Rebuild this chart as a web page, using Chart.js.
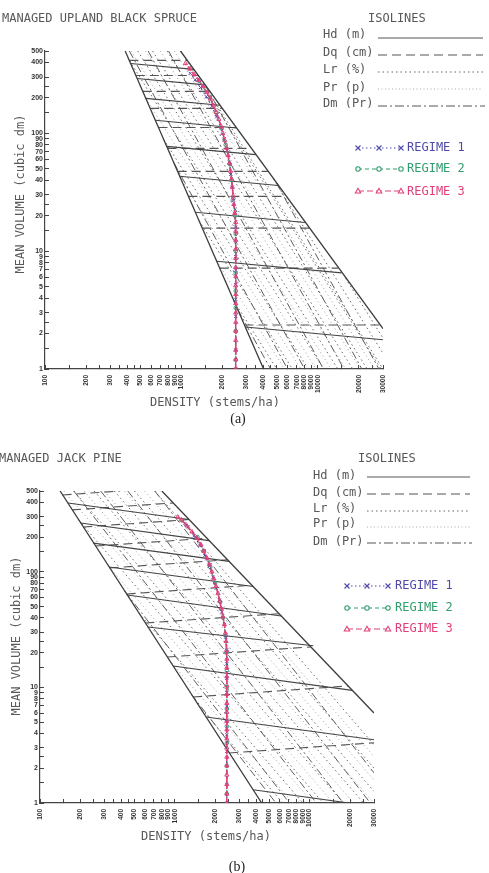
<!DOCTYPE html>
<html>
<head>
<meta charset="utf-8">
<title>Managed stand density diagrams</title>
<script src="https://cdn.jsdelivr.net/npm/chart.js@4.4.1/dist/chart.umd.min.js"></script>
<style>
  body { margin:0; background:#fff; }
  #page { position:relative; width:489px; height:873px; overflow:hidden; background:#fff; }
  canvas { position:absolute; left:0; }
  .lbl { position:absolute; white-space:nowrap; font-family:"DejaVu Sans Mono", monospace; font-size:12px; line-height:14px; color:#585858; }
  .ytitle { transform: translate(-50%,-50%) rotate(-90deg); }
  .xtitle { transform: translateX(-50%); }
  .cap { position:absolute; font-family:"Liberation Serif", serif; font-size:14px; line-height:16px; color:#222; transform:translateX(-50%); }
  .r1 { color:#4f4aa8; } .r2 { color:#2f9d6c; } .r3 { color:#e0407a; }
  svg { position:absolute; left:0; top:0; }
</style>
</head>
<body>
<div id="page">
  <canvas id="spruce" width="489" height="400" style="top:0"></canvas>
  <canvas id="pine" width="489" height="400" style="top:440px"></canvas>
  <svg id="keys" width="489" height="873"></svg>

  <div class="lbl" style="left:2px;top:11px">MANAGED UPLAND BLACK SPRUCE</div>
  <div class="lbl" style="left:368px;top:11px">ISOLINES</div>
  <div class="lbl" style="left:323px;top:27px">Hd (m)</div>
  <div class="lbl" style="left:323px;top:45px">Dq (cm)</div>
  <div class="lbl" style="left:323px;top:62px">Lr (%)</div>
  <div class="lbl" style="left:323px;top:80px">Pr (p)</div>
  <div class="lbl" style="left:323px;top:96px">Dm (Pr)</div>
  <div class="lbl r1" style="left:407px;top:140px">REGIME 1</div>
  <div class="lbl r2" style="left:407px;top:161px">REGIME 2</div>
  <div class="lbl r3" style="left:407px;top:184px">REGIME 3</div>
  <div class="lbl ytitle" style="left:20px;top:194px">MEAN VOLUME (cubic dm)</div>
  <div class="lbl xtitle" style="left:215px;top:395px">DENSITY (stems/ha)</div>
  <div class="cap" style="left:238px;top:411px">(a)</div>

  <div class="lbl" style="left:-1px;top:451px">MANAGED JACK PINE</div>
  <div class="lbl" style="left:358px;top:451px">ISOLINES</div>
  <div class="lbl" style="left:313px;top:468px">Hd (m)</div>
  <div class="lbl" style="left:313px;top:485px">Dq (cm)</div>
  <div class="lbl" style="left:313px;top:501px">Lr (%)</div>
  <div class="lbl" style="left:313px;top:516px">Pr (p)</div>
  <div class="lbl" style="left:313px;top:534px">Dm (Pr)</div>
  <div class="lbl r1" style="left:395px;top:578px">REGIME 1</div>
  <div class="lbl r2" style="left:395px;top:600px">REGIME 2</div>
  <div class="lbl r3" style="left:395px;top:621px">REGIME 3</div>
  <div class="lbl ytitle" style="left:16px;top:636px">MEAN VOLUME (cubic dm)</div>
  <div class="lbl xtitle" style="left:206px;top:829px">DENSITY (stems/ha)</div>
  <div class="cap" style="left:237px;top:859px">(b)</div>
</div>

<script>
// axis ticks (stems/ha, cubic dm)
const xTicks = [100,150,200,250,300,350,400,450,500,600,700,800,900,1000,1500,2000,2500,3000,3500,4000,4500,5000,6000,7000,8000,9000,10000,15000,20000,25000,30000];
const xLabels = [100,200,300,400,500,600,700,800,900,1000,2000,3000,4000,5000,6000,7000,8000,9000,10000,20000,30000];
const yTicks = [1,1.5,2,2.5,3,4,5,6,7,8,9,10,15,20,25,30,40,50,60,70,80,90,100,150,200,250,300,400,500];
const yLabels = [1,2,3,4,5,6,7,8,9,10,20,30,40,50,60,70,80,90,100,200,300,400,500];

// isolines: [density1, volume1, density2, volume2]
const spruceBounds = [[387,500,4000,1],[984,500,30000,2.2]];
const spruceHd = [[425,392,1233,349],[474,292,1489,258],[548,198,1914,173],[644,129,2529,111],[780,77.6,3499,66],[971,43.3,5105,36.1],[1265,21.4,8035,17.5],[1811,8.22,14890,6.55],[2938,2.27,30000,1.77]];
const spruceDq = [[415,416,1104,416],[463,310,1327,310],[521,227,1614,227],[590,163,1986,163],[679,112,2506,112],[791,74.6,3243,74.6],[938,47.6,4295,47.6],[1125,29.2,5834,29.2],[1422,15.7,8630,15.7],[1905,7.18,14060,7.18],[2897,2.36,28250,2.36]];
const spruceLr = [[2427,3.78,5000,1],[1349,18.1,6500,1],[741,88.9,8500,1],[416,413,11000,1],[478,500,14000,1],[614,500,18000,1],[785,500,23000,1],[989,500,29000,1],[1330,309,30000,1],[4732,40.9,30000,1.36],[15920,5.89,30000,1.83]];
const sprucePr = [[1807,8.28,5700,1],[979,42.4,7500,1],[550,197,9700,1],[427,500,12500,1],[546,500,16000,1],[700,500,20500,1],[887,500,26000,1]];
const spruceDm = [[2578,3.22,4500,1],[879,56.4,6000,1],[415,500,8000,1],[570,500,11000,1],[804,500,15500,1],[1500,255,21000,1],[4977,37.7,28000,1]];

const pineBounds = [[141,500,4410,1],[801,500,30000,6.0]];
const pineHd = [[161,394,1274,283],[200,264,1795,186],[249,177,2529,123],[325,110,3811,74.5],[444,63,6152,41.4],[631,33.3,10640,22.9],[971,15.3,20700,9.42],[1706,5.55,30000,3.52],[3819,1.30,19500,1]];
const pineDq = [[147,462,393,500],[173,343,972,394],[209,244,1274,283],[258,167,1730,195],[329,108,2455,127],[439,64.3,3724,76.6],[604,36.1,5916,43.4],[879,18.3,10180,22.4],[1368,8.26,19280,10.3],[2535,2.71,30000,3.32]];
const pineLr = [[1514,6.87,6310,1],[542,43.8,8913,1],[194,279,12590,1],[178,500,17780,1],[252,500,25120,1],[356,500,30000,1.26],[502,500,30000,2.0],[710,500,30000,3.19]];
const pinePr = [[906,17.3,7499,1],[324,111,10590,1],[150,500,14960,1],[212,500,21130,1],[299,500,29850,1],[423,500,30000,1.58],[597,500,30000,2.52]];
const pineDm = [[1321,8.77,5623,1],[425,68,7079,1],[178,500,11220,1],[282,500,17780,1],[448,500,28180,1],[710,500,30000,1.82]];

// management regimes: volume (cubic dm) and density (stems/ha)
const spruceR1Vol = [1,1.45,2.8,3.9,5.2,6.9,9,12,16,21,27,35,45,57,72,90,112,138,170,205,245,285,323];
const spruceR1Dens = [2500,2500,2500,2500,2500,2500,2500,2500,2500,2460,2410,2360,2300,2245,2160,2060,1950,1810,1670,1520,1380,1260,1160];
const spruceR2Vol = [1.2,2.1,3.3,4.6,6.5,10,14,20,28,40,55,80,110,150,200,280];
const spruceR2Dens = [2500,2500,2500,2500,2500,2500,2500,2470,2400,2335,2255,2110,1970,1805,1615,1345];
const spruceR3Vol = [1,1.2,1.45,1.75,2.1,2.5,3,3.6,4.3,5.1,6.1,7.3,8.7,10.4,12.4,14.8,17.6,21,25,29.5,35,41,48,56,65,75,87,100,115,132,151,172,196,222,250,281,315,352,392];
const spruceR3Dens = [2500,2500,2500,2500,2500,2500,2500,2500,2500,2500,2500,2500,2500,2500,2500,2500,2500,2460,2420,2390,2360,2330,2290,2250,2200,2140,2080,2010,1950,1880,1800,1720,1630,1540,1440,1340,1240,1150,1070];

const pineR1Vol = [1,1.45,2.8,3.9,5.2,6.9,9,12,16,21,27,35,45,57,72,90,112,138,170,205,245,262];
const pineR1Dens = [2430,2430,2430,2430,2430,2430,2430,2430,2430,2430,2390,2330,2230,2140,2030,1920,1800,1670,1530,1390,1250,1190];
const pineR2Vol = [1.2,2.1,3.3,4.6,6.5,10,14,20,28,40,55,80,110,150,200,280];
const pineR2Dens = [2430,2430,2430,2430,2430,2430,2430,2420,2380,2280,2170,1990,1830,1645,1470,1125];
const pineR3Vol = [1,1.2,1.45,1.75,2.1,2.5,3,3.6,4.3,5.1,6.1,7.3,8.7,10.4,12.4,14.8,17.6,21,25,29.5,35,41,48,56,65,75,87,100,115,132,151,172,196,222,250,281,298];
const pineR3Dens = [2430,2430,2430,2430,2430,2430,2430,2430,2430,2430,2430,2430,2430,2430,2430,2430,2430,2420,2400,2370,2330,2270,2210,2150,2090,2020,1950,1880,1810,1730,1640,1560,1460,1340,1230,1120,1052];

const BLUE = '#4f4aa8', GREEN = '#2f9d6c', PINK = '#e0407a';

function lines(rows, color, width, dash) {
  return rows.map(r => ({
    data: [{x:r[0], y:r[1]}, {x:r[2], y:r[3]}],
    showLine: true, borderColor: color, borderWidth: width, borderDash: dash,
    pointRadius: 0, fill: false
  }));
}

function regime(vol, dens, color, style, dash, radius, width) {
  return {
    data: vol.map((v, i) => ({x: dens[i], y: v})),
    showLine: true, borderColor: color, borderWidth: width, borderDash: dash,
    pointStyle: style, pointRadius: radius, pointBorderColor: color,
    pointBackgroundColor: 'rgba(0,0,0,0)', pointBorderWidth: 1, fill: false
  };
}

function diagram(id, o) {
  const sets = [
    regime(o.r3v, o.r3d, PINK, 'triangle', [5,2], 2.4, 1.6),
    regime(o.r1v, o.r1d, BLUE, 'crossRot', [2,3], 2.2, 1.2),
    regime(o.r2v, o.r2d, GREEN, 'circle', [4,3], 1.8, 1.2),
    ...lines(o.bounds, '#3c3c3c', 1.3, []),
    ...lines(o.hd, '#444', 1.1, []),
    ...lines(o.dq, '#555', 1.1, [9,5]),
    ...lines(o.dm, '#5e5e5e', 1, [8,3,2,3]),
    ...lines(o.lr, '#6a6a6a', 1, [1.5,3]),
    ...lines(o.pr, '#949494', 0.9, [1,3])
  ];
  new Chart(document.getElementById(id), {
    type: 'scatter',
    data: { datasets: sets },
    options: {
      responsive: false, animation: false, events: [],
      layout: { padding: { left: 0, top: o.top, right: o.right, bottom: 0 } },
      plugins: { legend: { display: false }, tooltip: { enabled: false } },
      scales: {
        x: {
          type: 'logarithmic', min: 100, max: 30000, position: 'bottom',
          afterBuildTicks: s => { s.ticks = xTicks.map(v => ({value: v})); },
          afterFit: s => { s.height = o.xh; },
          ticks: { autoSkip: false, minRotation: 90, maxRotation: 90, padding: 10, color: '#333',
                   font: { family: 'Liberation Sans', size: 6.5, weight: 'bold' },
                   callback: v => xLabels.includes(v) ? String(v) : '' },
          grid: { drawOnChartArea: false, drawTicks: true, tickLength: -4, tickColor: '#444' },
          border: { color: '#444', width: 1.2 }
        },
        y: {
          type: 'logarithmic', min: 1, max: 500,
          afterBuildTicks: s => { s.ticks = yTicks.map(v => ({value: v})); },
          afterFit: s => { s.width = o.yw; },
          ticks: { autoSkip: false, padding: 6, color: '#333',
                   font: { family: 'Liberation Sans', size: 7, weight: 'bold' },
                   callback: v => yLabels.includes(v) ? String(v) : '' },
          grid: { drawOnChartArea: false, drawTicks: true, tickLength: -4, tickColor: '#444' },
          border: { color: '#444', width: 1.2 }
        }
      }
    }
  });
}

diagram('spruce', { top: 51, right: 106, xh: 31, yw: 45,
  bounds: spruceBounds, hd: spruceHd, dq: spruceDq, lr: spruceLr, pr: sprucePr, dm: spruceDm,
  r1v: spruceR1Vol, r1d: spruceR1Dens, r2v: spruceR2Vol, r2d: spruceR2Dens, r3v: spruceR3Vol, r3d: spruceR3Dens });

diagram('pine', { top: 51, right: 115, xh: 37, yw: 40,
  bounds: pineBounds, hd: pineHd, dq: pineDq, lr: pineLr, pr: pinePr, dm: pineDm,
  r1v: pineR1Vol, r1d: pineR1Dens, r2v: pineR2Vol, r2d: pineR2Dens, r3v: pineR3Vol, r3d: pineR3Dens });

// legend keys
const svg = document.getElementById('keys');
function el(tag, attrs) {
  const e = document.createElementNS('http://www.w3.org/2000/svg', tag);
  for (const k in attrs) e.setAttribute(k, attrs[k]);
  svg.appendChild(e);
}
function isoKeys(x1, x2, ys) {
  const st = [['#555','none',1],['#555','9 5',1.1],['#666','1.5 3',1],['#aaa','1 2.5',1],['#555','9 3 2 3',1]];
  ys.forEach((y, i) => el('line', {x1: x1, y1: y, x2: i === 4 ? x2 + 2 : x2, y2: y, stroke: st[i][0], 'stroke-dasharray': st[i][1], 'stroke-width': st[i][2]}));
}
function regimeKeys(xs, ys) {
  el('line', {x1: xs[0], y1: ys[0], x2: xs[2], y2: ys[0], stroke: BLUE, 'stroke-dasharray': '1.5 2.5'});
  el('line', {x1: xs[0], y1: ys[1], x2: xs[2], y2: ys[1], stroke: GREEN, 'stroke-dasharray': '4 3'});
  el('line', {x1: xs[0], y1: ys[2], x2: xs[2], y2: ys[2], stroke: PINK, 'stroke-dasharray': '6 3'});
  xs.forEach(x => {
    el('path', {d: `M${x-2.5},${ys[0]-2.5}L${x+2.5},${ys[0]+2.5}M${x-2.5},${ys[0]+2.5}L${x+2.5},${ys[0]-2.5}`, stroke: BLUE, 'stroke-width': 1.1});
    el('circle', {cx: x, cy: ys[1], r: 2.2, fill: '#fff', stroke: GREEN, 'stroke-width': 1.1});
    el('path', {d: `M${x-2.7},${ys[2]+2}L${x+2.7},${ys[2]+2}L${x},${ys[2]-2.7}Z`, fill: '#fff', stroke: PINK, 'stroke-width': 1.1});
  });
}
isoKeys(378, 483, [38, 55, 72, 89, 106]);
regimeKeys([358, 379, 401], [148, 169, 191]);
isoKeys(367, 470, [477, 494, 511, 527, 543]);
regimeKeys([347, 367, 388], [586, 608, 629]);
</script>
</body>
</html>
